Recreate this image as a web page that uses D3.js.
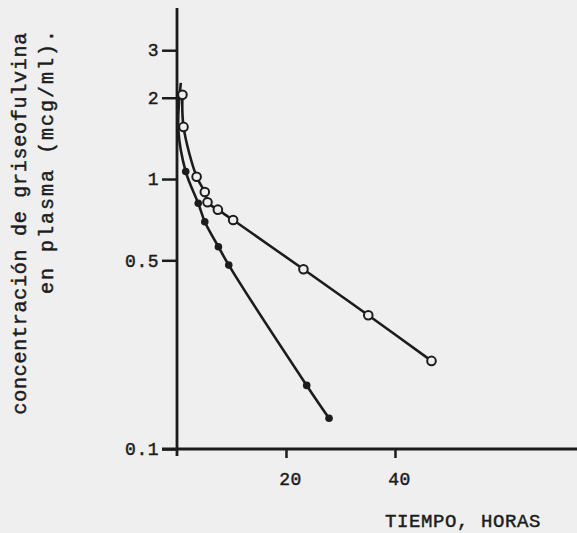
<!DOCTYPE html>
<html>
<head>
<meta charset="utf-8">
<script src="https://cdn.jsdelivr.net/npm/d3@7"></script>
<style>
  html, body { margin: 0; padding: 0; background: #efefef; }
  svg { display: block; }
  text { font-family: "Liberation Mono", "DejaVu Sans Mono", monospace; fill: #1c1c1c; stroke: #1c1c1c; stroke-width: 0.45px; }
</style>
</head>
<body>
<div class="chart"></div>
<script>
// Data (hours, mcg/ml)
const horasLenta = [1.0, 1.2, 3.6, 5.1, 5.6, 7.5, 10.3, 23.2, 35.1, 46.7];
const concLenta = [2.05, 1.56, 1.02, 0.895, 0.82, 0.77, 0.705, 0.463, 0.313, 0.212];
const horasRapida = [1.6, 3.9, 5.1, 7.6, 9.5, 23.8, 27.9];
const concRapida = [1.066, 0.813, 0.695, 0.561, 0.48, 0.172, 0.130];
// unmarked start of the filled-dot curve
const horasInicio = [0.7, 0.25];
const concInicio = [2.27, 1.52];
const yTicks = [0.1, 0.5, 1, 2, 3];
const yTickLabels = ["0.1", "0.5", "1", "2", "3"];
const xTicks = [20, 40];

const width = 577, height = 533;
const ink = "#1c1c1c";

const svg = d3.select(".chart")
  .append("svg")
  .attr("width", width)
  .attr("height", height);

// Scales
const x = d3.scaleLinear().domain([0, 73.4]).range([177, 577]);
const y = d3.scaleLog().domain([0.1, 4.3]).range([449, 8]);

// Y axis
const yAxis = svg.append("g")
  .attr("transform", `translate(${x(0)},0)`)
  .call(d3.axisLeft(y).tickValues(yTicks).tickSize(15).tickPadding(3)
    .tickFormat((d, i) => yTickLabels[i]));
yAxis.select(".domain").remove();
yAxis.selectAll(".tick line").attr("stroke", ink).attr("stroke-width", 2.5);
yAxis.selectAll(".tick text")
  .attr("font-size", 18).attr("letter-spacing", 0.5)
  .attr("font-family", "Liberation Mono").attr("fill", ink);

svg.append("line")
  .attr("x1", x(0)).attr("x2", x(0))
  .attr("y1", 8).attr("y2", 456)
  .attr("stroke", ink).attr("stroke-width", 2.8);

// X axis
const xAxis = svg.append("g")
  .attr("transform", `translate(0,${y(0.1)})`)
  .call(d3.axisBottom(x).tickValues(xTicks).tickSize(9).tickPadding(14));
xAxis.select(".domain").remove();
xAxis.selectAll(".tick line").attr("stroke", ink).attr("stroke-width", 2.5);
xAxis.selectAll(".tick text")
  .attr("font-size", 18).attr("letter-spacing", 0.5).attr("dx", 4)
  .attr("font-family", "Liberation Mono").attr("fill", ink);

svg.append("line")
  .attr("x1", 162).attr("x2", 577)
  .attr("y1", y(0.1)).attr("y2", y(0.1))
  .attr("stroke", ink).attr("stroke-width", 2.8);

// Axis labels
svg.append("text")
  .attr("x", 385).attr("y", 527)
  .attr("font-size", 19).attr("letter-spacing", 0.6)
  .text("TIEMPO, HORAS");

svg.append("text")
  .attr("transform", "translate(26,32) rotate(-90)")
  .attr("text-anchor", "end")
  .attr("font-size", 20).attr("letter-spacing", 0.75)
  .text("concentración de griseofulvina");

svg.append("text")
  .attr("transform", "translate(53,28) rotate(-90)")
  .attr("text-anchor", "end")
  .attr("font-size", 20).attr("letter-spacing", 2.0)
  .text("en plasma (mcg/ml).");

// Lines
const line = d3.line()
  .curve(d3.curveCatmullRom.alpha(0.5))
  .x(d => x(d[0]))
  .y(d => y(d[1]));

const lenta = horasLenta.map((h, i) => [h, concLenta[i]]);
const rapida = horasRapida.map((h, i) => [h, concRapida[i]]);
const inicio = horasInicio.map((h, i) => [h, concInicio[i]]);

svg.append("path")
  .datum(inicio.concat(rapida))
  .attr("fill", "none").attr("stroke", ink).attr("stroke-width", 2.6)
  .attr("d", line);

svg.append("path")
  .datum(lenta)
  .attr("fill", "none").attr("stroke", ink).attr("stroke-width", 2.6)
  .attr("d", line);

// Markers
svg.selectAll(".punto-rapida")
  .data(rapida)
  .enter().append("circle")
  .attr("class", "punto-rapida")
  .attr("cx", d => x(d[0])).attr("cy", d => y(d[1]))
  .attr("r", 3.8)
  .attr("fill", ink);

svg.selectAll(".punto-lenta")
  .data(lenta)
  .enter().append("circle")
  .attr("class", "punto-lenta")
  .attr("cx", d => x(d[0])).attr("cy", d => y(d[1]))
  .attr("r", 4.3)
  .attr("fill", "#efefef").attr("stroke", ink).attr("stroke-width", 2);
</script>
</body>
</html>
